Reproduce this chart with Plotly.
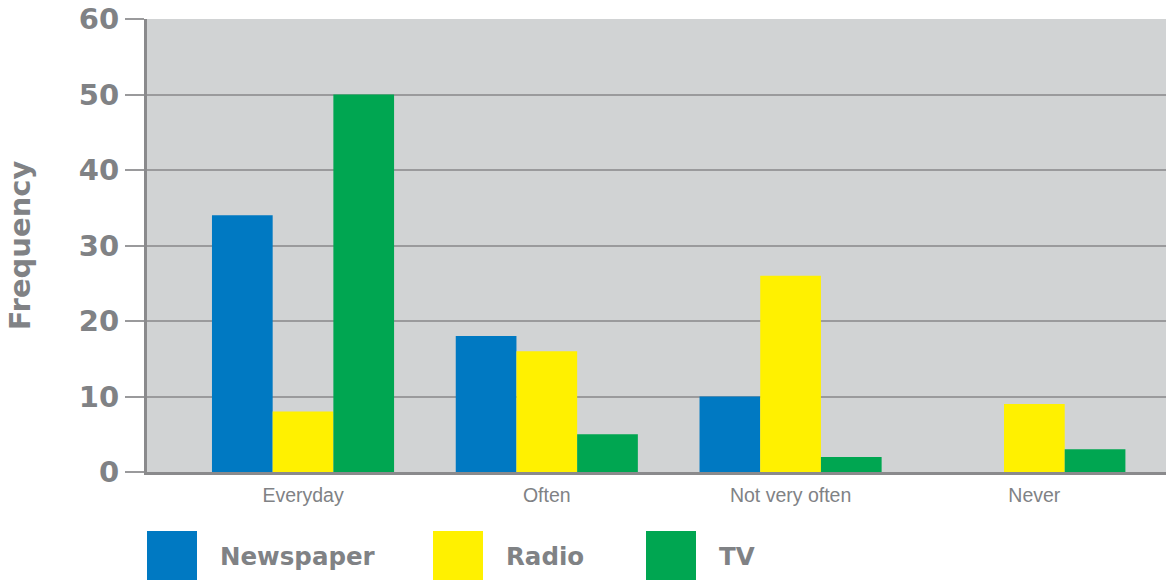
import plotly.graph_objects as go

categories = ["Everyday", "Often", "Not very often", "Never"]
series_names = ["Newspaper", "Radio", "TV"]
newspaper = [34, 18, 10, 0]
radio = [8, 16, 26, 9]
tv = [50, 5, 2, 3]
series_values = [newspaper, radio, tv]
colors = ["#0079c2", "#fff100", "#00a651"]
y_ticks = [0, 10, 20, 30, 40, 50, 60]

GREY = "#808285"
BOLD_FONT = "DejaVu Sans"
PLAIN_FONT = "Liberation Sans, Arial"

# Plot area geometry (pixels) used to place the custom legend
PLOT_L, PLOT_W, PLOT_H, PLOT_B = 147, 1019, 453, 472

fig = go.Figure()
for name, vals, col in zip(series_names, series_values, colors):
    fig.add_trace(go.Bar(
        x=list(range(len(categories))), y=vals, name=name,
        marker=dict(color=col, line=dict(width=0)),
        showlegend=False,
    ))

# Custom legend: big colour squares with bold labels under the chart
legend_x = [147, 433, 646]
for i, (name, col) in enumerate(zip(series_names, colors)):
    x0 = (legend_x[i] - PLOT_L) / PLOT_W
    fig.add_shape(type="rect", xref="paper", yref="paper",
                  x0=x0, x1=x0 + 50 / PLOT_W,
                  y0=-(531 - PLOT_B) / PLOT_H, y1=-(581 - PLOT_B) / PLOT_H,
                  fillcolor=col, line=dict(width=0), layer="above")
    fig.add_annotation(xref="paper", yref="paper",
                       x=(legend_x[i] + 71 - PLOT_L) / PLOT_W,
                       y=-(556 - PLOT_B) / PLOT_H, text=f"<b>{name}</b>", showarrow=False,
                       xanchor="left", yanchor="middle",
                       font=dict(family=BOLD_FONT, size=24.5, color=GREY))

fig.update_layout(
    width=1166, height=580,
    margin=dict(l=PLOT_L, r=0, t=19, b=108),
    paper_bgcolor="white",
    plot_bgcolor="#d1d3d4",
    barmode="group",
    bargap=0.253,
    bargroupgap=0,
    xaxis=dict(
        range=[-0.64, 3.54],
        tickmode="array", tickvals=list(range(len(categories))), ticktext=categories,
        showgrid=False, zeroline=False,
        showline=True, linecolor="#8a8a8c", linewidth=3,
        ticks="", ticklabelstandoff=4,
        tickfont=dict(family=PLAIN_FONT, size=19.5, color=GREY),
    ),
    yaxis=dict(
        range=[0, 60],
        tickmode="array", tickvals=y_ticks,
        showgrid=True, gridcolor="#9a9a9c", gridwidth=1.5,
        zeroline=False,
        showline=True, linecolor="#8a8a8c", linewidth=3,
        ticks="outside", ticklen=19, tickcolor="#9a9a9c", tickwidth=1.5,
        tickfont=dict(family=BOLD_FONT, size=29, color=GREY, weight="bold"),
        title=dict(text="<b>Frequency</b>", standoff=40,
                   font=dict(family=BOLD_FONT, size=29, color=GREY)),
    ),
)

fig.write_html("out.html")
